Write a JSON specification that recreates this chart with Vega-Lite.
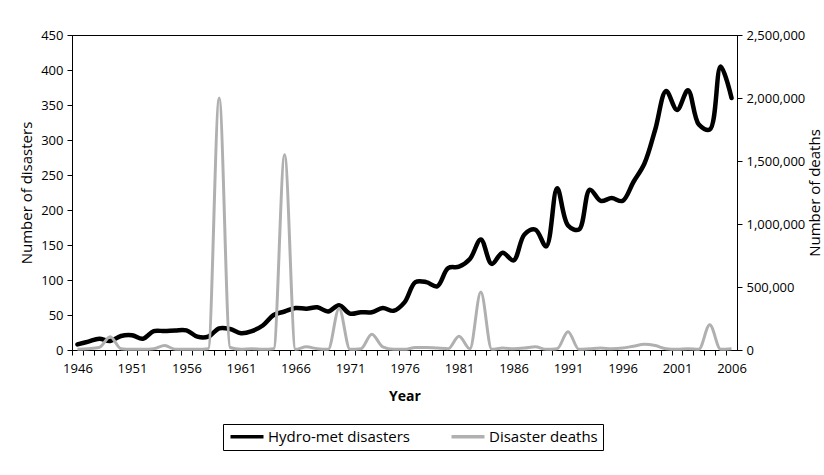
{
  "$schema": "https://vega.github.io/schema/vega-lite/v6.json",
  "width": 665,
  "height": 315,
  "autosize": {"type": "none"},
  "padding": {"left": 72, "top": 35, "right": 87, "bottom": 125},
  "background": "white",
  "config": {
    "font": "Open Sans",
    "view": {"stroke": "black", "strokeWidth": 1},
    "axis": {
      "domainColor": "black",
      "tickColor": "black",
      "labelColor": "black",
      "titleColor": "black",
      "labelFontSize": 13,
      "titleFontSize": 15,
      "titleFontWeight": "normal",
      "grid": false,
      "tickSize": 5,
      "labelFont": "Open Sans",
      "titleFont": "Open Sans"
    },
    "legend": {
      "labelFont": "Open Sans",
      "labelFontSize": 15,
      "labelColor": "black"
    }
  },
  "data": {
    "values": [
      {"year": 1946, "disasters": 8, "deaths": 5000},
      {"year": 1947, "disasters": 12, "deaths": 10000},
      {"year": 1948, "disasters": 16, "deaths": 20000},
      {"year": 1949, "disasters": 13, "deaths": 105000},
      {"year": 1950, "disasters": 20, "deaths": 10000},
      {"year": 1951, "disasters": 21, "deaths": 5000},
      {"year": 1952, "disasters": 16, "deaths": 5000},
      {"year": 1953, "disasters": 27, "deaths": 10000},
      {"year": 1954, "disasters": 27, "deaths": 35000},
      {"year": 1955, "disasters": 28, "deaths": 5000},
      {"year": 1956, "disasters": 28, "deaths": 5000},
      {"year": 1957, "disasters": 19, "deaths": 5000},
      {"year": 1958, "disasters": 19, "deaths": 10000},
      {"year": 1959, "disasters": 31, "deaths": 2000000},
      {"year": 1960, "disasters": 30, "deaths": 20000},
      {"year": 1961, "disasters": 24, "deaths": 5000},
      {"year": 1962, "disasters": 27, "deaths": 10000},
      {"year": 1963, "disasters": 35, "deaths": 5000},
      {"year": 1964, "disasters": 50, "deaths": 10000},
      {"year": 1965, "disasters": 55, "deaths": 1550000},
      {"year": 1966, "disasters": 60, "deaths": 5000},
      {"year": 1967, "disasters": 59, "deaths": 25000},
      {"year": 1968, "disasters": 61, "deaths": 10000},
      {"year": 1969, "disasters": 55, "deaths": 5000},
      {"year": 1970, "disasters": 64, "deaths": 330000},
      {"year": 1971, "disasters": 52, "deaths": 5000},
      {"year": 1972, "disasters": 54, "deaths": 10000},
      {"year": 1973, "disasters": 54, "deaths": 125000},
      {"year": 1974, "disasters": 60, "deaths": 25000},
      {"year": 1975, "disasters": 56, "deaths": 5000},
      {"year": 1976, "disasters": 68, "deaths": 5000},
      {"year": 1977, "disasters": 97, "deaths": 20000},
      {"year": 1978, "disasters": 97, "deaths": 20000},
      {"year": 1979, "disasters": 91, "deaths": 15000},
      {"year": 1980, "disasters": 117, "deaths": 10000},
      {"year": 1981, "disasters": 119, "deaths": 110000},
      {"year": 1982, "disasters": 130, "deaths": 10000},
      {"year": 1983, "disasters": 158, "deaths": 460000},
      {"year": 1984, "disasters": 123, "deaths": 5000},
      {"year": 1985, "disasters": 139, "deaths": 15000},
      {"year": 1986, "disasters": 128, "deaths": 10000},
      {"year": 1987, "disasters": 165, "deaths": 15000},
      {"year": 1988, "disasters": 172, "deaths": 25000},
      {"year": 1989, "disasters": 148, "deaths": 5000},
      {"year": 1990, "disasters": 231, "deaths": 10000},
      {"year": 1991, "disasters": 178, "deaths": 145000},
      {"year": 1992, "disasters": 172, "deaths": 5000},
      {"year": 1993, "disasters": 229, "deaths": 10000},
      {"year": 1994, "disasters": 213, "deaths": 15000},
      {"year": 1995, "disasters": 217, "deaths": 10000},
      {"year": 1996, "disasters": 213, "deaths": 15000},
      {"year": 1997, "disasters": 240, "deaths": 30000},
      {"year": 1998, "disasters": 266, "deaths": 45000},
      {"year": 1999, "disasters": 315, "deaths": 35000},
      {"year": 2000, "disasters": 370, "deaths": 10000},
      {"year": 2001, "disasters": 343, "deaths": 5000},
      {"year": 2002, "disasters": 371, "deaths": 10000},
      {"year": 2003, "disasters": 322, "deaths": 5000},
      {"year": 2004, "disasters": 315, "deaths": 200000},
      {"year": 2005, "disasters": 405, "deaths": 5000},
      {"year": 2006, "disasters": 360, "deaths": 10000}
    ]
  },
  "encoding": {
    "x": {
      "field": "year",
      "type": "quantitative",
      "scale": {"domain": [1945.5, 2006.5], "nice": false, "zero": false},
      "axis": {
        "title": "Year",
        "titleFontWeight": "bold",
        "titleFontSize": 14,
        "titlePadding": 14,
        "values": [1946,1947,1948,1949,1950,1951,1952,1953,1954,1955,1956,1957,1958,1959,1960,1961,1962,1963,1964,1965,1966,1967,1968,1969,1970,1971,1972,1973,1974,1975,1976,1977,1978,1979,1980,1981,1982,1983,1984,1985,1986,1987,1988,1989,1990,1991,1992,1993,1994,1995,1996,1997,1998,1999,2000,2001,2002,2003,2004,2005,2006],
        "labelExpr": "(datum.value - 1946) % 5 === 0 ? '' + datum.value : ''",
        "labelOverlap": false,
        "labelFlush": false,
        "labelBound": false,
        "tickOffset": -5.45,
        "labelOffset": 5.45,
        "labelPadding": 7
      }
    }
  },
  "layer": [
    {
      "mark": {"type": "line", "interpolate": "catmull-rom", "strokeWidth": 4.5, "strokeCap": "round", "strokeJoin": "round"},
      "encoding": {
        "y": {
          "field": "disasters",
          "type": "quantitative",
          "scale": {"domain": [0, 450], "nice": false},
          "axis": {"title": "Number of disasters", "values": [0,50,100,150,200,250,300,350,400,450], "labelPadding": 4, "titlePadding": 6}
        },
        "color": {
          "datum": "Hydro-met disasters",
          "type": "nominal",
          "scale": {"domain": ["Hydro-met disasters", "Disaster deaths"], "range": ["#000000", "#b0b0b0"]},
          "legend": {
            "orient": "none",
            "legendX": 151,
            "legendY": 389,
            "direction": "horizontal",
            "title": null,
            "strokeColor": "black",
            "padding": 5,
            "symbolType": "M-1,0H5.6",
            "symbolSize": 100,
            "symbolStrokeWidth": 3.5,
            "labelOffset": 25,
            "columnPadding": 34
          }
        }
      }
    },
    {
      "mark": {"type": "line", "interpolate": "monotone", "strokeWidth": 3},
      "encoding": {
        "y": {
          "field": "deaths",
          "type": "quantitative",
          "scale": {"domain": [0, 2500000], "nice": false},
          "axis": {"orient": "right", "title": "Number of deaths", "titleAngle": 270, "format": ",.0f", "values": [0,500000,1000000,1500000,2000000,2500000], "labelPadding": 4, "titlePadding": 18}
        },
        "color": {"datum": "Disaster deaths", "type": "nominal"}
      }
    }
  ],
  "resolve": {"scale": {"y": "independent"}}
}
